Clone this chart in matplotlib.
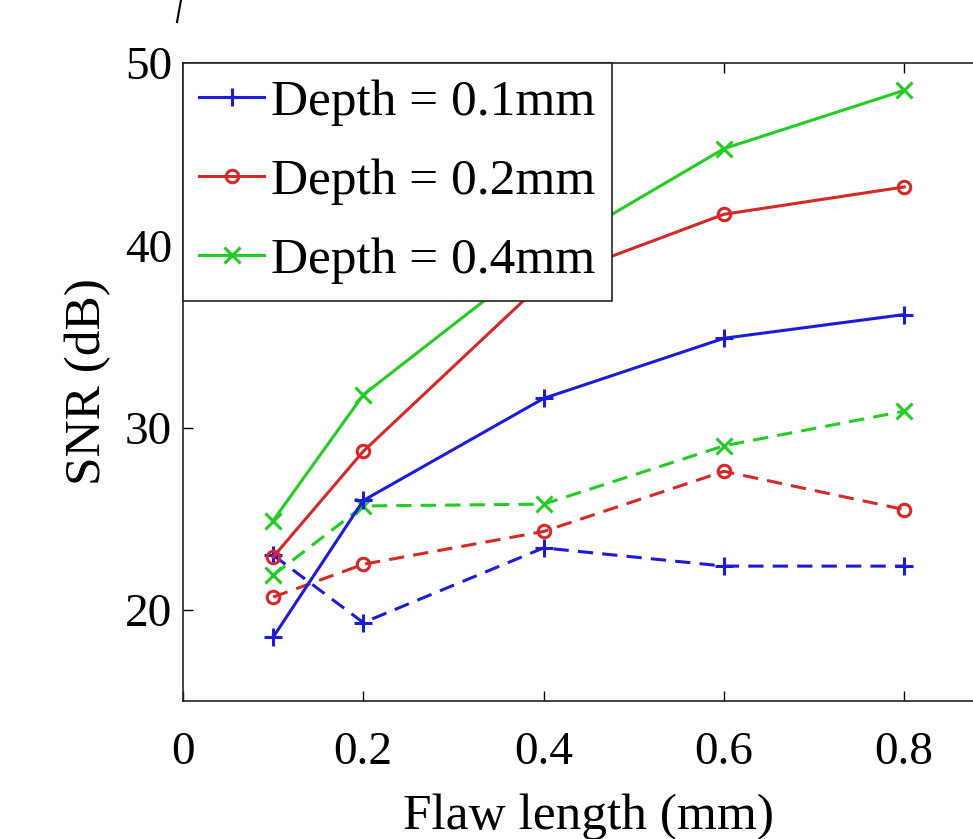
"""SNR vs flaw length for three flaw depths (solid and dashed series)."""

import matplotlib
matplotlib.use("Agg")
import matplotlib.pyplot as plt
from matplotlib.lines import Line2D

plt.rcParams["font.family"] = ["Liberation Serif", "DejaVu Serif"]

flaw_length = [0.1, 0.2, 0.4, 0.6, 0.8]

# solid series (legend entries)
snr_d01 = [18.5, 26.0, 31.6, 34.9, 36.2]
snr_d02 = [22.9, 28.7, 38.0, 41.7, 43.2]
snr_d04 = [24.9, 31.8, 39.5, 45.3, 48.5]

# dashed series
snr_d01_dash = [23.0, 19.3, 23.4, 22.4, 22.4]
snr_d02_dash = [20.7, 22.5, 24.3, 27.6, 25.5]
snr_d04_dash = [21.9, 25.7, 25.8, 29.0, 30.9]

labels = ["Depth = 0.1mm", "Depth = 0.2mm", "Depth = 0.4mm"]
colors = ["#1c1cd8", "#d62828", "#22cc22"]
markers = ["+", "o", "x"]
msizes = [13, 9, 11]
x_ticks = [0, 0.2, 0.4, 0.6, 0.8]
y_ticks = [20, 30, 40, 50]

fig = plt.figure(figsize=(9.73, 8.39), dpi=100)
# axes run past the right edge of the figure, as in the cropped original
ax = fig.add_axes([183 / 973, 138 / 839, 811.4 / 973, 638 / 839])

solid = [snr_d01, snr_d02, snr_d04]
dashed = [snr_d01_dash, snr_d02_dash, snr_d04_dash]

for ys, c, m, ms in zip(dashed, colors, markers, msizes):
    ax.plot(flaw_length, ys, linestyle=(0, (5, 3)), color=c, marker=m,
            markersize=ms, markerfacecolor="none", markeredgewidth=2.2,
            linewidth=2.2)

handles = []
for ys, c, m, ms, lab in zip(solid, colors, markers, msizes, labels):
    h, = ax.plot(flaw_length, ys, "-", color=c, marker=m, markersize=ms,
                 markerfacecolor="none", markeredgewidth=2.2, linewidth=2.2,
                 label=lab)
    handles.append(h)

ax.set_xlim(0, 0.9)
ax.set_ylim(15, 50)
ax.set_xticks(x_ticks)
ax.set_xticklabels(["0", "0.2", "0.4", "0.6", "0.8"])
ax.set_yticks(y_ticks)
ax.tick_params(direction="in", length=7, width=1, top=True, right=True,
               labelsize=34)
ax.tick_params(axis="x", pad=22)
ax.tick_params(axis="y", pad=8)
for sp in ax.spines.values():
    sp.set_linewidth(1.2)
    sp.set_color("#222222")

ax.set_xlabel("Flaw length (mm)", fontsize=37, labelpad=14)
ax.set_ylabel("SNR (dB)", fontsize=37, labelpad=10)

leg = ax.legend(handles=handles, loc="upper left", fontsize=37,
                borderaxespad=0, frameon=True, fancybox=False,
                handlelength=1.25, handletextpad=0.15, borderpad=0.32,
                labelspacing=0.62)
leg.get_frame().set_edgecolor("#222222")
leg.get_frame().set_linewidth(1.2)
leg.get_frame().set_alpha(1)

# stray stroke at top-left of the original crop
fig.add_artist(Line2D([177 / 973, 181 / 973], [1 - 22 / 839, 1.0],
                      color="black", linewidth=1.5))

fig.savefig("out.png", dpi=100)
